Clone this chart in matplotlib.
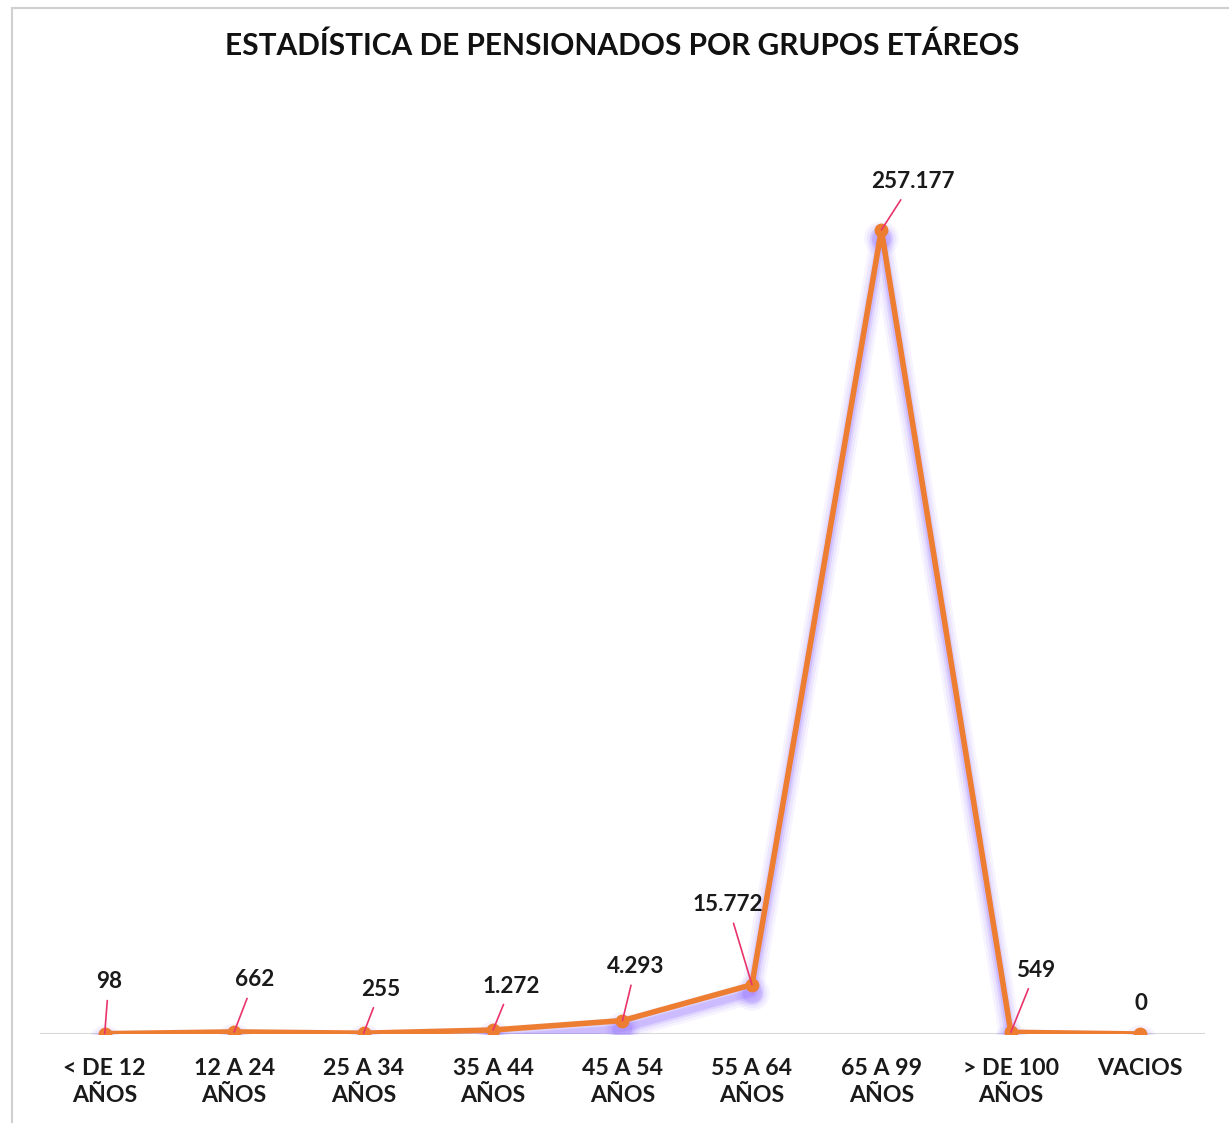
import matplotlib
matplotlib.use("Agg")
import matplotlib.pyplot as plt
import matplotlib.transforms as mtransforms
from matplotlib.patches import Rectangle
from matplotlib import font_manager

categories = ["< DE 12\nAÑOS", "12 A 24\nAÑOS", "25 A 34\nAÑOS", "35 A 44\nAÑOS",
              "45 A 54\nAÑOS", "55 A 64\nAÑOS", "65 A 99\nAÑOS", "> DE 100\nAÑOS", "VACIOS"]
values = [98, 662, 255, 1272, 4293, 15772, 257177, 549, 0]
value_labels = ["98", "662", "255", "1.272", "4.293", "15.772", "257.177", "549", "0"]
title = "ESTADÍSTICA DE PENSIONADOS POR GRUPOS ETÁREOS"

# label offsets (pixels) relative to each point
label_offsets = [(4, 52), (20, 52), (17, 44), (18, 44), (13, 54), (-24, 80), (31, 48), (25, 62), (1, 31)]

names = {f.name for f in font_manager.fontManager.ttflist}
main = "Lato" if "Lato" in names else ("Roboto" if "Roboto" in names else "DejaVu Sans")
plt.rcParams['font.family'] = [main, "DejaVu Sans"]

W, H = 1229, 1123
fig = plt.figure(figsize=(W / 100, H / 100), dpi=100)
fig.patch.set_facecolor("white")
renderer = fig.canvas.get_renderer()


def fit(t, target_px, size):
    t.set_fontsize(size)
    w = t.get_window_extent(renderer).width
    t.set_fontsize(size * target_px / w)


# frame border
fig.add_artist(Rectangle((12 / W, -0.1), 1.2, (H - 8) / H + 0.1, transform=fig.transFigure,
                         facecolor="none", edgecolor="#d0d0d0", lw=1.5))

ax = fig.add_axes([40 / W, 89 / H, (1205 - 40) / W, (1034 - 96) / H])
x = list(range(len(values)))
ax.set_xlim(-0.5, len(values) - 0.5)
ax.set_ylim(0, 300000)

# purple glow shadow
for lw, a in [(16, 0.07), (12, 0.10), (8, 0.15), (5, 0.22)]:
    off = mtransforms.offset_copy(ax.transData, fig=fig, x=0, y=-8, units='dots')
    ax.plot(x, values, color="#8f6bff", lw=lw, alpha=a, transform=off,
            solid_capstyle='round', solid_joinstyle='round', zorder=1)
    ax.plot(x, values, 'o', color="#8f6bff", ms=lw + 9, alpha=a, transform=off,
            markeredgewidth=0, zorder=1)

ax.plot(x, values, color="#ED7D31", lw=4.0, marker='o', ms=10, markeredgewidth=0,
        solid_joinstyle='round', zorder=3)

for xi, v, lab, (dx, dy) in zip(x, values, value_labels, label_offsets):
    kw = dict(xytext=(dx, dy), textcoords='offset pixels', ha='center', va='center',
              fontsize=18, fontweight='bold', color="#1a1a1a")
    if v != 0:
        kw['arrowprops'] = dict(arrowstyle='-', color="#e8336b", lw=1.2, shrinkA=4, shrinkB=0)
    t = ax.annotate(lab, (xi, v), **kw)
    if lab == "257.177":
        fit(t, 84, 18)
        ref_size = t.get_fontsize()
for t in ax.texts:
    t.set_fontsize(ref_size)

for s in ax.spines.values():
    s.set_visible(False)
ax.axhline(0, color="#d9d9d9", lw=1.5, zorder=0)
ax.set_yticks([])
ax.set_xticks(x)
labels = ax.set_xticklabels(categories, fontweight='bold', color="#1a1a1a", linespacing=1.38)
fit(labels[7], 96, 18)
tsize = labels[7].get_fontsize()
for l in labels:
    l.set_fontsize(tsize)
ax.tick_params(axis='x', length=0, pad=17)

tt = fig.text(622 / W, 1 - 46 / H, title, ha='center', va='center', fontweight='bold', color="#111111")
fit(tt, 795, 26)

fig.savefig("out.png", dpi=100)
